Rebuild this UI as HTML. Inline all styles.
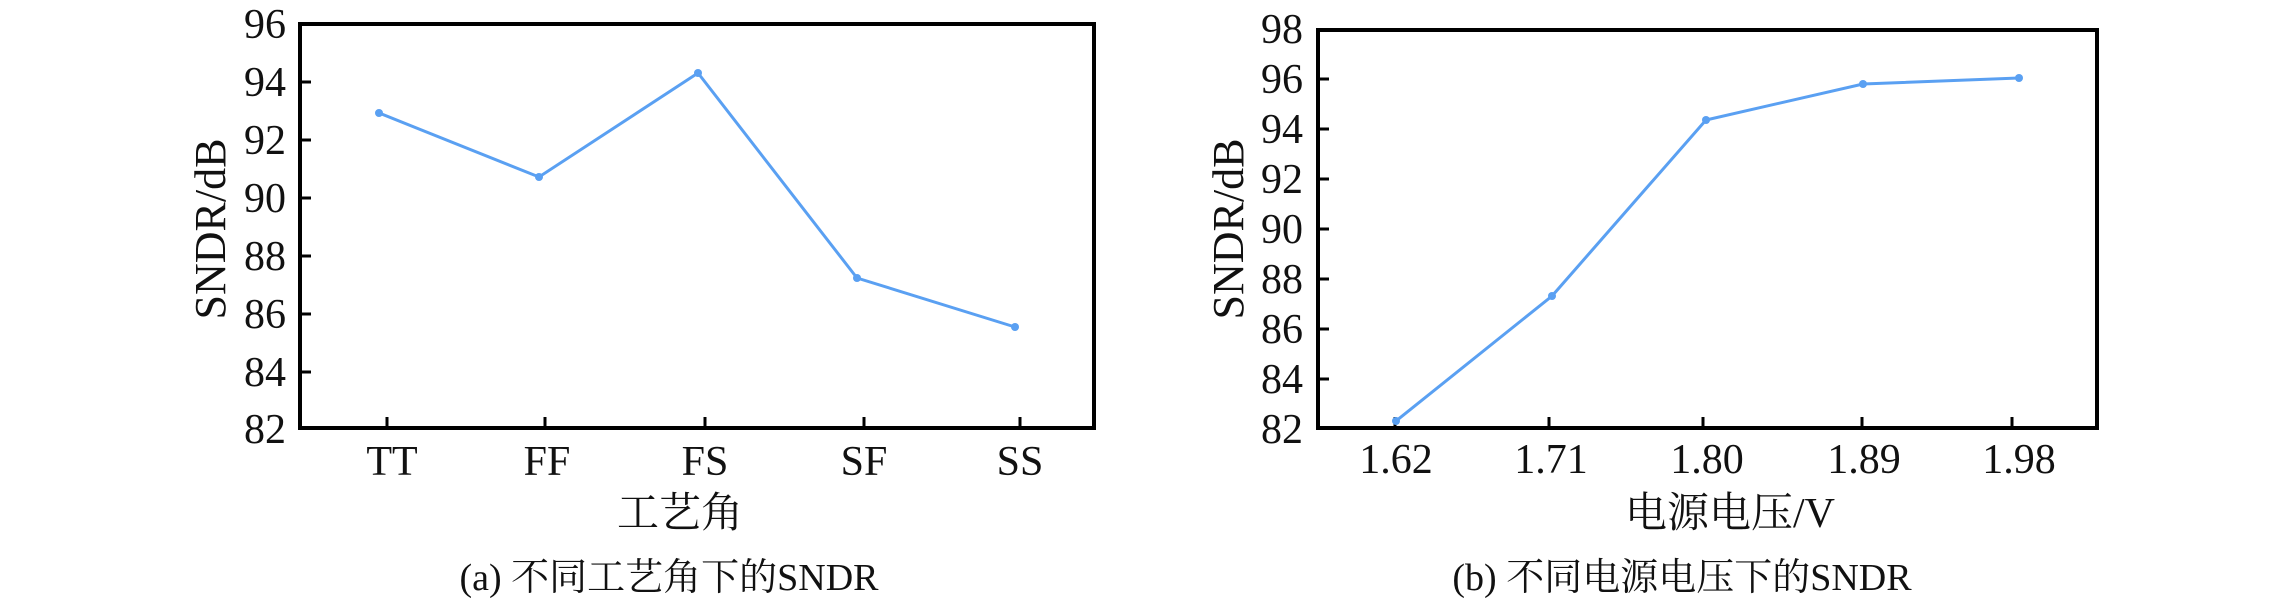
<!DOCTYPE html>
<html><head><meta charset="utf-8"><style>
html,body{margin:0;padding:0;background:#fff;}
svg{display:block;}
svg text{font-family:"Liberation Serif","Times New Roman","Noto Serif CJK SC",serif;fill:#111;}
</style></head><body>
<svg width="2283" height="598" viewBox="0 0 2283 598" xmlns="http://www.w3.org/2000/svg" font-family="Liberation Serif, Noto Serif CJK SC, serif">
<!-- Plot A -->
<g>
<rect x="300" y="24" width="794" height="404" fill="none" stroke="#000" stroke-width="4"/>
<g stroke="#000" stroke-width="3">
<line x1="300" y1="82" x2="311" y2="82"/><line x1="300" y1="140" x2="311" y2="140"/>
<line x1="300" y1="198" x2="311" y2="198"/><line x1="300" y1="256" x2="311" y2="256"/>
<line x1="300" y1="314" x2="311" y2="314"/><line x1="300" y1="372" x2="311" y2="372"/>
<line x1="387" y1="428" x2="387" y2="417"/><line x1="545" y1="428" x2="545" y2="417"/>
<line x1="705" y1="428" x2="705" y2="417"/><line x1="864" y1="428" x2="864" y2="417"/>
<line x1="1020" y1="428" x2="1020" y2="417"/>
</g>
<g font-size="42" text-anchor="end">
<text x="286" y="38">96</text><text x="286" y="96">94</text><text x="286" y="154">92</text>
<text x="286" y="212">90</text><text x="286" y="270">88</text><text x="286" y="328">86</text>
<text x="286" y="386">84</text><text x="286" y="443">82</text>
</g>
<g font-size="42" text-anchor="middle">
<text x="392" y="475">TT</text><text x="547" y="475">FF</text><text x="705" y="475">FS</text>
<text x="864" y="475">SF</text><text x="1020" y="475">SS</text>
</g>
<text x="680" y="527" font-size="42" text-anchor="middle">工艺角</text>
<text x="669" y="590" font-size="38" text-anchor="middle">(a) 不同工艺角下的SNDR</text>
<text transform="translate(225,229) rotate(-90)" font-size="44" text-anchor="middle">SNDR/dB</text>
<polyline points="379,113 539,177 698,73 857,278 1015,327" fill="none" stroke="#5aa0f2" stroke-width="3"/>
<g fill="#5aa0f2"><circle cx="379" cy="113" r="4"/><circle cx="539" cy="177" r="4"/><circle cx="698" cy="73" r="4"/><circle cx="857" cy="278" r="4"/><circle cx="1015" cy="327" r="4"/></g>
</g>
<!-- Plot B -->
<g>
<rect x="1318" y="30" width="779" height="398" fill="none" stroke="#000" stroke-width="4"/>
<g stroke="#000" stroke-width="3">
<line x1="1318" y1="79" x2="1329" y2="79"/><line x1="1318" y1="129" x2="1329" y2="129"/>
<line x1="1318" y1="179" x2="1329" y2="179"/><line x1="1318" y1="229" x2="1329" y2="229"/>
<line x1="1318" y1="279" x2="1329" y2="279"/><line x1="1318" y1="329" x2="1329" y2="329"/>
<line x1="1318" y1="379" x2="1329" y2="379"/>
<line x1="1395" y1="428" x2="1395" y2="417"/><line x1="1549" y1="428" x2="1549" y2="417"/>
<line x1="1703" y1="428" x2="1703" y2="417"/><line x1="1862" y1="428" x2="1862" y2="417"/>
<line x1="2012" y1="428" x2="2012" y2="417"/>
</g>
<g font-size="42" text-anchor="end">
<text x="1303" y="43">98</text><text x="1303" y="93">96</text><text x="1303" y="143">94</text>
<text x="1303" y="193">92</text><text x="1303" y="243">90</text><text x="1303" y="293">88</text>
<text x="1303" y="343">86</text><text x="1303" y="393">84</text><text x="1303" y="443">82</text>
</g>
<g font-size="42" text-anchor="middle">
<text x="1396" y="473">1.62</text><text x="1551" y="473">1.71</text><text x="1707" y="473">1.80</text>
<text x="1864" y="473">1.89</text><text x="2019" y="473">1.98</text>
</g>
<text x="1730" y="527" font-size="42" text-anchor="middle">电源电压/V</text>
<text x="1682" y="590" font-size="38" text-anchor="middle">(b) 不同电源电压下的SNDR</text>
<text transform="translate(1243,229) rotate(-90)" font-size="44" text-anchor="middle">SNDR/dB</text>
<polyline points="1396,421 1552,296 1706,120 1863,84 2019,78" fill="none" stroke="#5aa0f2" stroke-width="3"/>
<g fill="#5aa0f2"><circle cx="1396" cy="421" r="4"/><circle cx="1552" cy="296" r="4"/><circle cx="1706" cy="120" r="4"/><circle cx="1863" cy="84" r="4"/><circle cx="2019" cy="78" r="4"/></g>
</g>
</svg>
</body></html>
